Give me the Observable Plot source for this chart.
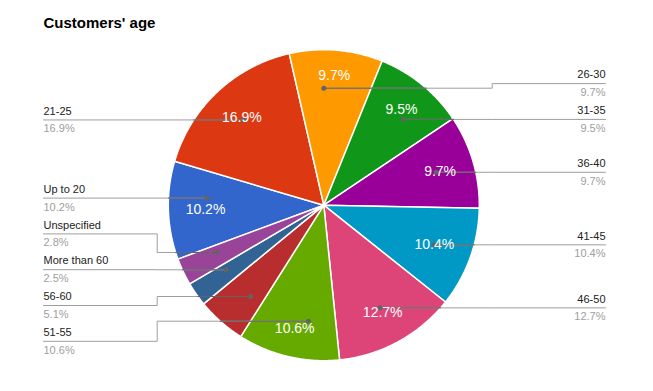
<!DOCTYPE html>
<html>
<head>
<meta charset="utf-8">
<script src="https://cdn.jsdelivr.net/npm/d3@7"></script>
<script src="https://cdn.jsdelivr.net/npm/@observablehq/plot@0.6"></script>
<style>
  body { margin: 0; background: #fff; }
  #chart svg { display: block; }
</style>
</head>
<body>
<div id="chart"></div>
<script>
// ---- data ----
const title = "Customers' age";
const categories = ["Up to 20", "21-25", "26-30", "31-35", "36-40", "41-45", "46-50", "51-55", "56-60", "More than 60", "Unspecified"];
const values = [10.2, 16.9, 9.7, 9.5, 9.7, 10.4, 12.7, 10.6, 5.1, 2.5, 2.8];
const colors = ["#3366cc", "#dc3912", "#ff9900", "#109618", "#990099", "#0099c6", "#dd4477", "#66aa00", "#b82e2e", "#316395", "#994499"];

// ---- layout constants ----
const W = 653, H = 391;
const CX = 323.3, CY = 204.7, R = 155.5, START = -110.3;
const RD = 117;            // leader dot radius (px)
const GAP = 35.8;          // min vertical spacing of outside labels
const LEFT_X = 43, RIGHT_X = 605, ELBOW_L = 156.7, ELBOW_R = 491.7;
const FONT = "'Liberation Sans', Arial, sans-serif";
const rad = Math.PI / 180;
const ux = px => (px - CX) / R;
const uy = py => (CY - py) / R;
const fmt = v => d3.format(".1f")(v) + "%";

const total = d3.sum(values);
let acc = START;
const slices = categories.map((c, i) => {
  const a0 = acc, a1 = acc + values[i] / total * 360;
  acc = a1;
  const mid = (a0 + a1) / 2;
  const side = Math.sin(mid * rad) < 0 ? "left" : "right";
  return {c, v: values[i], color: colors[i], a0, a1, mid, side,
          ideal: CY - RD * Math.cos(mid * rad)};
});

// resolve label collisions per side
for (const side of ["left", "right"]) {
  const items = slices.filter(s => s.side === side).sort((a, b) => a.ideal - b.ideal);
  let clusters = items.map(s => ({members: [s]}));
  const place = cl => {
    const m = d3.mean(cl.members, s => s.ideal);
    const n = cl.members.length;
    cl.top = m - (n - 1) * GAP / 2;
    cl.bottom = cl.top + (n - 1) * GAP;
  };
  clusters.forEach(place);
  let changed = true;
  while (changed) {
    changed = false;
    for (let k = 0; k < clusters.length - 1; k++) {
      if (clusters[k + 1].top - clusters[k].bottom < GAP) {
        clusters[k].members = clusters[k].members.concat(clusters[k + 1].members);
        clusters.splice(k + 1, 1);
        place(clusters[k]);
        changed = true;
        break;
      }
    }
  }
  for (const cl of clusters) cl.members.forEach((s, j) => s.lineY = cl.top + j * GAP);
}

// dot positions
for (const s of slices) {
  const c = Math.max(-1, Math.min(1, (CY - s.lineY) / RD));
  let th = Math.acos(c) / rad;
  if (s.side === "left") th = -th;
  while (th - s.mid > 180) th -= 360;
  while (th - s.mid < -180) th += 360;
  const m = 0.35 * (s.a1 - s.a0);
  th = Math.max(s.a0 + m, Math.min(s.a1 - m, th));
  s.dotX = CX + RD * Math.sin(th * rad);
  s.dotY = CY - RD * Math.cos(th * rad);
}

// slice polygons (unit coordinates)
const polyPts = [];
for (const s of slices) {
  polyPts.push({k: s.c, x: 0, y: 0, color: s.color});
  const n = Math.max(2, Math.ceil((s.a1 - s.a0) / 0.5));
  for (let j = 0; j <= n; j++) {
    const a = (s.a0 + (s.a1 - s.a0) * j / n) * rad;
    polyPts.push({k: s.c, x: Math.sin(a), y: Math.cos(a), color: s.color});
  }
}

// leader lines
const leadPts = [], innerPts = [];
for (const s of slices) {
  const ex = s.side === "left" ? ELBOW_L : ELBOW_R;
  const sx = s.side === "left" ? LEFT_X : RIGHT_X;
  [[sx, s.lineY], [ex, s.lineY], [ex, s.dotY], [s.dotX, s.dotY]]
    .forEach(([x, y]) => leadPts.push({k: s.c, x: ux(x), y: uy(y)}));
  const h = Math.sqrt(Math.max(0, R * R - (s.dotY - CY) ** 2));
  const xe = s.side === "left" ? CX - h : CX + h;
  [[xe, s.dotY], [s.dotX, s.dotY]].forEach(([x, y]) => innerPts.push({k: s.c, x: ux(x), y: uy(y)}));
}

// inside percentage labels
const inside = [];
for (const s of slices) {
  const txt = fmt(s.v);
  const w = (txt.length - 2) * 7.8 + 3.9 + 12.45, hgt = 14;
  const th = s.mid * rad;
  const r = 138.5 - (Math.abs(Math.sin(th)) * w / 2 + Math.abs(Math.cos(th)) * hgt / 2);
  const chord = 2 * r * Math.sin((s.a1 - s.a0) / 2 * rad);
  if (chord > w + 10) inside.push({t: txt, x: Math.sin(th) * r / R, y: Math.cos(th) * r / R});
}

const outside = slices.map(s => ({
  name: s.c, pct: fmt(s.v), side: s.side,
  x: ux(s.side === "left" ? LEFT_X : RIGHT_X),
  yName: uy(s.lineY - 5.3), yPct: uy(s.lineY + 12.4)
}));
const leftLabels = outside.filter(d => d.side === "left");
const rightLabels = outside.filter(d => d.side === "right");

const chart = Plot.plot({
  width: W, height: H,
  margin: 0,
  style: {fontFamily: FONT, background: "#fff"},
  x: {domain: [ux(0), ux(W)], range: [0, W], axis: null},
  y: {domain: [uy(H), uy(0)], range: [H, 0], axis: null},
  color: {type: "identity"},
  marks: [
    Plot.line(polyPts, {x: "x", y: "y", z: "k", fill: "color", stroke: "white", strokeWidth: 1.5, curve: "linear-closed"}),
    Plot.line(leadPts, {x: "x", y: "y", z: "k", stroke: "#9e9e9e", strokeWidth: 1}),
    Plot.line(innerPts, {x: "x", y: "y", z: "k", stroke: "#636363", strokeWidth: 1}),
    Plot.dot(slices, {x: d => ux(d.dotX), y: d => uy(d.dotY), r: 2.5, fill: "#636363", stroke: null}),
    Plot.text(inside, {x: "x", y: "y", text: "t", fill: "white", fontSize: 14, lineAnchor: "middle", textAnchor: "middle"}),
    Plot.text(leftLabels, {x: "x", y: "yName", text: "name", fill: "#222", fontSize: 11, lineAnchor: "bottom", textAnchor: "start"}),
    Plot.text(rightLabels, {x: "x", y: "yName", text: "name", fill: "#222", fontSize: 11, lineAnchor: "bottom", textAnchor: "end"}),
    Plot.text(leftLabels, {x: "x", y: "yPct", text: "pct", fill: "#9e9e9e", fontSize: 11, lineAnchor: "bottom", textAnchor: "start"}),
    Plot.text(rightLabels, {x: "x", y: "yPct", text: "pct", fill: "#9e9e9e", fontSize: 11, lineAnchor: "bottom", textAnchor: "end"}),
    Plot.text([title], {frameAnchor: "top-left", dx: 43, dy: 27.3, text: d => d, fill: "#000", fontSize: 15, fontWeight: "bold", lineAnchor: "bottom", textAnchor: "start"})
  ]
});
document.getElementById("chart").appendChild(chart);
</script>
</body>
</html>
